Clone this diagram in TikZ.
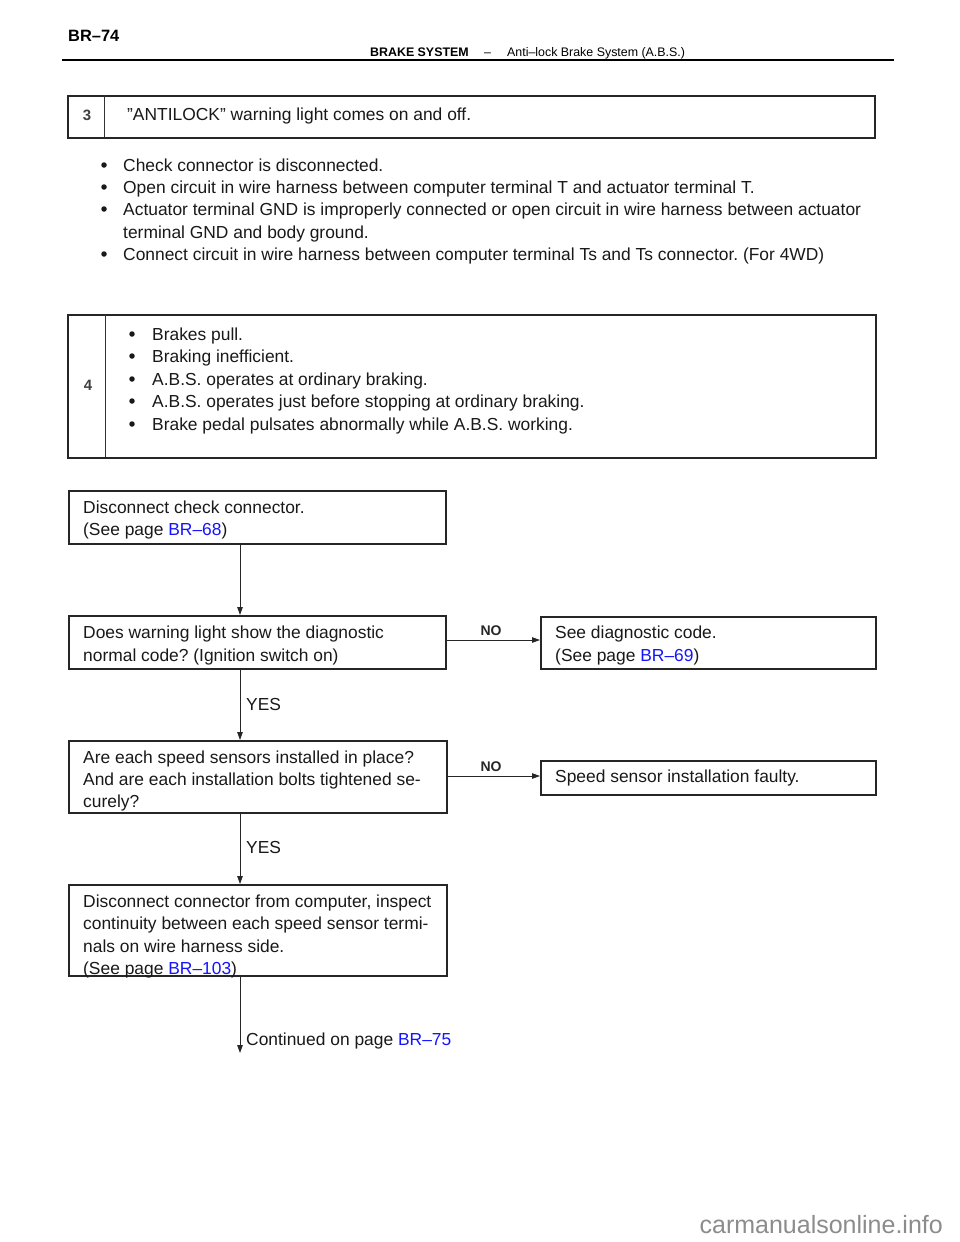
\documentclass[tikz,border=0pt]{standalone}
\usepackage{fontspec}
\setmainfont{Liberation Sans}
\usetikzlibrary{arrows.meta}
\definecolor{linkblue}{RGB}{20,20,255}
\definecolor{ink}{RGB}{25,25,25}
\frenchspacing
\begin{document}
\begin{tikzpicture}[x=1pt,y=-1pt,
  txt/.style={anchor=base west,inner sep=0pt,font=\fontsize{17.4}{20}\selectfont,text=ink},
  bul/.style={circle,fill=ink,inner sep=0pt,minimum size=5.5pt},
  numlab/.style={inner sep=0pt,font=\fontsize{15}{17}\bfseries\selectfont,text=black!75},
  nolab/.style={inner sep=0pt,font=\fontsize{14}{16}\bfseries\selectfont,text=black!85},
  probbox/.style={draw=black!85,line width=1.8pt,inner sep=0pt},
  flowbox/.style={draw=black!85,line width=1.5pt,inner sep=0pt},
  conn/.style={draw=black!85,line width=1pt,-{Triangle[length=8pt,width=5.5pt]}},
  lk/.style={text=linkblue}]
\useasboundingbox (0,0) rectangle (960,1242);
\fill[white] (0,0) rectangle (960,1242);
% header
\node[anchor=base west,inner sep=0pt,font=\fontsize{16.4}{19}\bfseries\selectfont] (hdr) at (68,41) {BR--74};
\node[anchor=base west,inner sep=0pt,font=\fontsize{12.4}{14}\bfseries\selectfont] (hsys) at (370,56) {BRAKE SYSTEM};
\node[anchor=base west,inner sep=0pt,font=\fontsize{12.4}{14}\selectfont] (hdash) at (484,56) {--};
\node[anchor=base west,inner sep=0pt,font=\fontsize{12.4}{14}\selectfont] (hsub) at (507,56) {Anti--lock Brake System (A.B.S.)};
\coordinate (hl) at (62,60); \coordinate (hr) at (894,60);
\draw[line width=1.8pt] (hl) -- (hr);
% problem box 3
\node[probbox,minimum width=807pt,minimum height=42pt,anchor=north west] (p3) at (67,95) {};
\coordinate (p3a) at (104,95); \coordinate (p3b) at (104,137);
\draw[line width=1pt,black!80] (p3a) -- (p3b);
\node[numlab] (n3) at (87,115) {3};
\node[txt] (t3) at (127,120) {"ANTILOCK" warning light comes on and off.};
% bullets
\node[bul] (b1) at (104,165) {}; \node[txt] (l1) at (123,171) {Check connector is disconnected.};
\node[bul] (b2) at (104,187) {}; \node[txt] (l2) at (123,193) {Open circuit in wire harness between computer terminal T and actuator terminal T.};
\node[bul] (b3) at (104,209) {}; \node[txt] (l3) at (123,215) {Actuator terminal GND is improperly connected or open circuit in wire harness between actuator};
\node[txt] (l3b) at (123,238) {terminal GND and body ground.};
\node[bul] (b4) at (104,254) {}; \node[txt] (l4) at (123,260) {Connect circuit in wire harness between computer terminal Ts and Ts connector. (For 4WD)};
% problem box 4
\node[probbox,minimum width=808pt,minimum height=143pt,anchor=north west] (p4) at (67,314) {};
\coordinate (p4a) at (105,314); \coordinate (p4b) at (105,457);
\draw[line width=1pt,black!80] (p4a) -- (p4b);
\node[numlab] (n4) at (88,385) {4};
\node[bul] (c1) at (132,334) {}; \node[txt] (m1) at (152,340) {Brakes pull.};
\node[bul] (c2) at (132,356) {}; \node[txt] (m2) at (152,362) {Braking inefficient.};
\node[bul] (c3) at (132,379) {}; \node[txt] (m3) at (152,385) {A.B.S. operates at ordinary braking.};
\node[bul] (c4) at (132,401) {}; \node[txt] (m4) at (152,407) {A.B.S. operates just before stopping at ordinary braking.};
\node[bul] (c5) at (132,424) {}; \node[txt] (m5) at (152,430) {Brake pedal pulsates abnormally while A.B.S. working.};
% flow boxes
\node[flowbox,minimum width=377pt,minimum height=53pt,anchor=north west] (A) at (68,490) {};
\node[txt] (a1) at (83,513) {Disconnect check connector.};
\node[txt] (a2) at (83,535) {(See page \textcolor{linkblue}{BR--68})};
\node[flowbox,minimum width=377pt,minimum height=53pt,anchor=north west] (B) at (68,615) {};
\node[txt] (bb1) at (83,638) {Does warning light show the diagnostic};
\node[txt] (bb2) at (83,661) {normal code? (Ignition switch on)};
\node[flowbox,minimum width=335pt,minimum height=52pt,anchor=north west] (C) at (540,616) {};
\node[txt] (cc1) at (555,638) {See diagnostic code.};
\node[txt] (cc2) at (555,661) {(See page \textcolor{linkblue}{BR--69})};
\node[flowbox,minimum width=378pt,minimum height=72pt,anchor=north west] (D) at (68,740) {};
\node[txt] (d1) at (83,763) {Are each speed sensors installed in place?};
\node[txt] (d2) at (83,785) {And are each installation bolts tightened se-};
\node[txt] (d3) at (83,807) {curely?};
\node[flowbox,minimum width=335pt,minimum height=34pt,anchor=north west] (E) at (540,760) {};
\node[txt] (e1) at (555,782) {Speed sensor installation faulty.};
\node[flowbox,minimum width=378pt,minimum height=91pt,anchor=north west] (F) at (68,884) {};
\node[txt] (f1) at (83,907) {Disconnect connector from computer, inspect};
\node[txt] (f2) at (83,929) {continuity between each speed sensor termi-};
\node[txt] (f3) at (83,952) {nals on wire harness side.};
\node[txt] (f4) at (83,974) {(See page \textcolor{linkblue}{BR--103})};
% connectors
\coordinate (Aout) at (240,543); \coordinate (Bin) at (240,615);
\draw[conn] (Aout) -- (Bin);
\coordinate (Bo) at (240,668); \coordinate (Di) at (240,740);
\draw[conn] (Bo) -- (Di);
\node[txt] (yes1) at (246,710) {YES};
\coordinate (Do) at (240,812); \coordinate (Fi) at (240,884);
\draw[conn] (Do) -- (Fi);
\node[txt] (yes2) at (246,853) {YES};
\coordinate (BR) at (445,640); \coordinate (CL) at (540,640);
\draw[conn] (BR) -- (CL);
\node[nolab] (no1) at (491,631) {NO};
\coordinate (DR) at (446,776); \coordinate (EL) at (540,776);
\draw[conn] (DR) -- (EL);
\node[nolab] (no2) at (491,767) {NO};
\coordinate (Fo) at (240,975); \coordinate (cont) at (240,1053);
\draw[conn] (Fo) -- (cont);
\node[txt] (ct) at (246,1045) {Continued on page \textcolor{linkblue}{BR--75}};
% watermark
\node[anchor=base east,inner sep=0pt,font=\fontsize{25}{30}\selectfont,text=black!45] (wm) at (943,1233) {carmanualsonline.info};
\end{tikzpicture}
\end{document}
